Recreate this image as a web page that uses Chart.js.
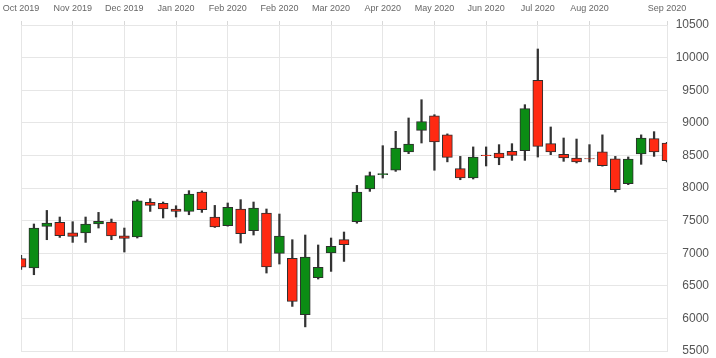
<!DOCTYPE html>
<html>
<head>
<meta charset="utf-8">
<script src="https://cdn.jsdelivr.net/npm/chart.js@4/dist/chart.umd.min.js"></script>
<style>
  html, body { margin: 0; padding: 0; background: #fff; }
  #wrap { width: 716px; height: 358px; }
</style>
</head>
<body>
<div id="wrap"><canvas id="candles"></canvas></div>
<script>
// weekly candles, a month label every 4th week
const tickLabels = [
  'Oct 2019', '', '', '', 'Nov 2019', '', '', '', 'Dec 2019', '', '', '',
  'Jan 2020', '', '', '', 'Feb 2020', '', '', '', 'Feb 2020', '', '', '',
  'Mar 2020', '', '', '', 'Apr 2020', '', '', '', 'May 2020', '', '', '',
  'Jun 2020', '', '', '', 'Jul 2020', '', '', '', 'Aug 2020', '', '', '',
  '', '', 'Sep 2020'
];

const openVals = [6916, 6773, 7411, 7472, 7314, 7310, 7448, 7478, 7268, 7248,
  7779, 7764, 7678, 7641, 7939, 7555, 7422, 7678, 7345, 7616,
  6997, 6920, 6056, 6625, 7003, 7207, 7483, 7985, 8205, 8272,
  8555, 8884, 9107, 8814, 8296, 8153, 8506, 8537, 8562, 8572,
  9651, 8680, 8516, 8460, 8452, 8555, 8449, 8066, 8521, 8757, 8690];
const highVals = [6966, 7448, 7656, 7555, 7483, 7555, 7626, 7524, 7386, 7821,
  7836, 7785, 7728, 7959, 7955, 7733, 7770, 7821, 7785, 7678,
  7601, 7207, 7279, 7126, 7233, 7325, 8040, 8245, 8649, 8869,
  9074, 9354, 9124, 8830, 8485, 8630, 8630, 8665, 8680, 9278,
  10132, 8936, 8767, 8751, 8665, 8815, 8485, 8476, 8815, 8864, 8700];
const lowVals = [6750, 6670, 7207, 7242, 7166, 7166, 7386, 7207, 7018, 7233,
  7641, 7540, 7555, 7590, 7626, 7395, 7415, 7156, 7279, 6696,
  6834, 6184, 5870, 6604, 6721, 6874, 7460, 7948, 8153, 8255,
  8527, 8690, 8272, 8401, 8127, 8138, 8338, 8357, 8424, 8424,
  8475, 8511, 8409, 8384, 8399, 8335, 7939, 8051, 8363, 8485, 8400];
const closeVals = [6787, 7386, 7463, 7268, 7258, 7448, 7488, 7264, 7227, 7805,
  7733, 7678, 7641, 7908, 7667, 7402, 7702, 7299, 7693, 6788,
  7264, 6260, 6942, 6782, 7104, 7130, 7939, 8189, 8220, 8614,
  8674, 9017, 8706, 8470, 8153, 8476, 8496, 8460, 8500, 9217,
  8638, 8553, 8460, 8399, 8445, 8344, 7974, 8445, 8767, 8553, 8419];

const upColor = '#0b8c14';
const downColor = '#ff2a12';
const gridColor = '#e6e6e6';
const font = "'Liberation Sans', Arial, sans-serif";

const bodies = openVals.map((o, i) => [o, closeVals[i]]);
const wicks = lowVals.map((l, i) => [l, highVals[i]]);
const bodyColors = openVals.map((o, i) => closeVals[i] >= o ? upColor : downColor);

new Chart(document.getElementById('candles'), {
  type: 'bar',
  data: {
    labels: tickLabels,
    datasets: [
      {
        data: bodies,
        backgroundColor: bodyColors,
        borderColor: '#2e2e2e',
        borderWidth: 1,
        borderSkipped: false,
        barThickness: 10,
        grouped: false,
        order: 0
      },
      {
        data: wicks,
        backgroundColor: '#333',
        borderWidth: 0,
        barThickness: 1.6,
        grouped: false,
        order: 1
      }
    ]
  },
  options: {
    responsive: true,
    maintainAspectRatio: false,
    animation: false,
    layout: { padding: { left: 21, right: 7, top: 0, bottom: 7 } },
    plugins: { legend: { display: false }, tooltip: { enabled: false } },
    scales: {
      x: {
        position: 'top',
        offset: false,
        grid: {
          offset: false,
          color: ctx => tickLabels[ctx.index] ? gridColor : 'rgba(0,0,0,0)',
          tickColor: ctx => tickLabels[ctx.index] ? '#d8d8d8' : 'rgba(0,0,0,0)',
          tickLength: 4
        },
        border: { color: gridColor },
        ticks: {
          autoSkip: false,
          maxRotation: 0,
          padding: 7,
          color: '#666',
          font: { family: font, size: 9 }
        },
        // fixed band for the month labels, no extra side padding
        afterFit: s => { s.height = 25; s.paddingLeft = 0; s.paddingRight = 0; }
      },
      y: {
        position: 'right',
        min: 5500,
        max: 10500,
        grid: { color: gridColor, drawTicks: false },
        border: { color: gridColor },
        ticks: {
          stepSize: 500,
          padding: 9,
          crossAlign: 'far',
          color: '#555',
          font: { family: font, size: 12 },
          callback: v => String(v)
        },
        afterFit: s => { s.width = 42; s.paddingTop = 0; s.paddingBottom = 0; }
      }
    }
  }
});
</script>
</body>
</html>
